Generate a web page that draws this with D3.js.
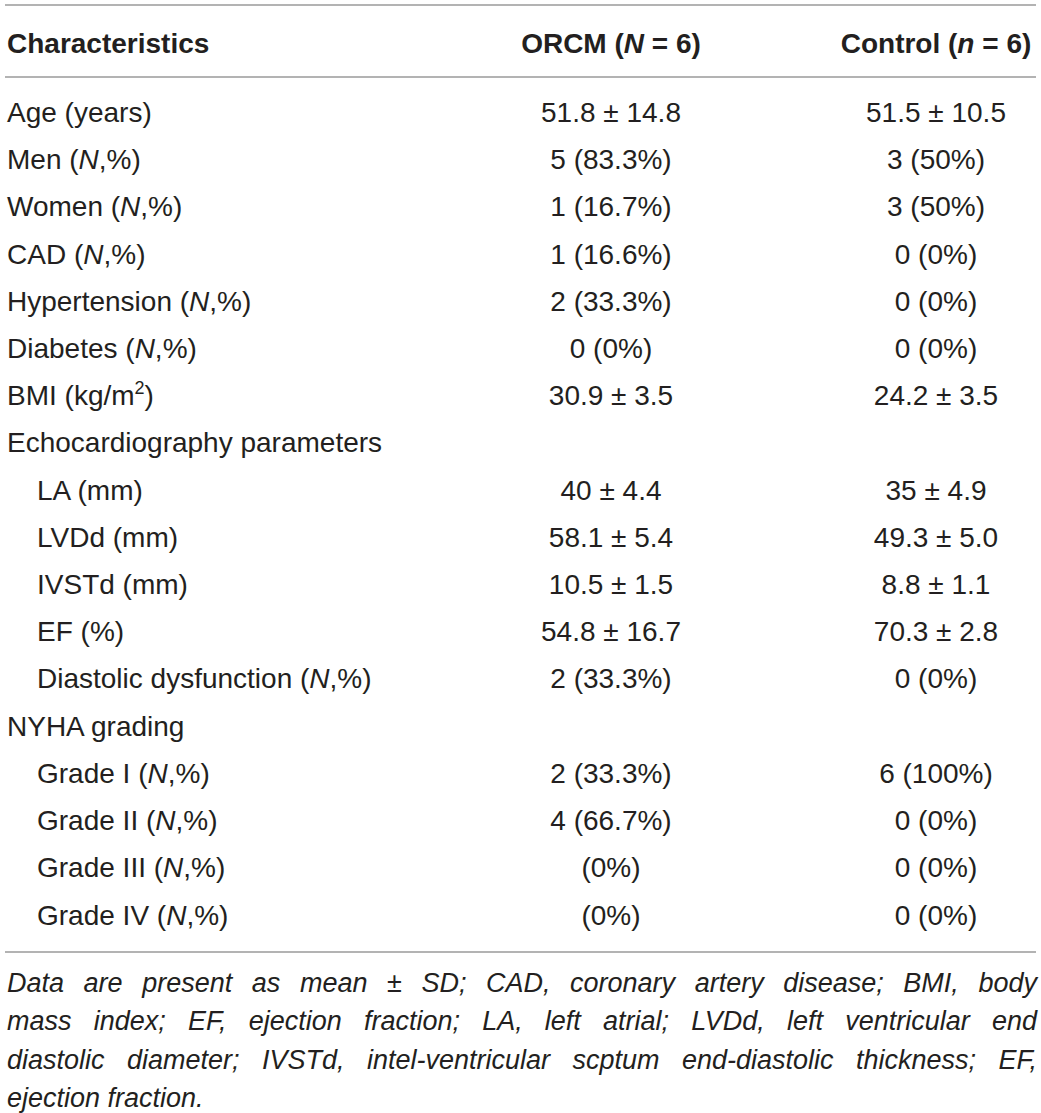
<!DOCTYPE html>
<html>
<head>
<meta charset="utf-8">
<script src="https://cdn.jsdelivr.net/npm/d3@7"></script>
<style>
  body { margin: 0; background: #fff; }
  svg { display: block; }
  text { font-family: "Liberation Sans", Arial, sans-serif; fill: #231f20; }
</style>
</head>
<body>
<script>
// table content: *x* = italic, ^x^ = superscript
const headers = ["Characteristics", "ORCM (*N* = 6)", "Control (*n* = 6)"];

const rowLabels = [
  "Age (years)", "Men (*N*,%)", "Women (*N*,%)", "CAD (*N*,%)",
  "Hypertension (*N*,%)", "Diabetes (*N*,%)", "BMI (kg/m^2^)",
  "Echocardiography parameters", "LA (mm)", "LVDd (mm)", "IVSTd (mm)",
  "EF (%)", "Diastolic dysfunction (*N*,%)", "NYHA grading",
  "Grade I (*N*,%)", "Grade II (*N*,%)", "Grade III (*N*,%)", "Grade IV (*N*,%)"
];
// sub-rows are indented
const rowIndent = [0, 0, 0, 0, 0, 0, 0, 0, 1, 1, 1, 1, 1, 0, 1, 1, 1, 1];

const orcmValues = [
  "51.8 ± 14.8", "5 (83.3%)", "1 (16.7%)", "1 (16.6%)", "2 (33.3%)", "0 (0%)",
  "30.9 ± 3.5", "", "40 ± 4.4", "58.1 ± 5.4", "10.5 ± 1.5", "54.8 ± 16.7",
  "2 (33.3%)", "", "2 (33.3%)", "4 (66.7%)", "(0%)", "(0%)"
];
const controlValues = [
  "51.5 ± 10.5", "3 (50%)", "3 (50%)", "0 (0%)", "0 (0%)", "0 (0%)",
  "24.2 ± 3.5", "", "35 ± 4.9", "49.3 ± 5.0", "8.8 ± 1.1", "70.3 ± 2.8",
  "0 (0%)", "", "6 (100%)", "0 (0%)", "0 (0%)", "0 (0%)"
];

const footnote = "Data are present as mean ± SD; CAD, coronary artery disease; BMI, body " +
  "mass index; EF, ejection fraction; LA, left atrial; LVDd, left ventricular end " +
  "diastolic diameter; IVSTd, intel-ventricular scptum end-diastolic thickness; EF, " +
  "ejection fraction.";
const footLines = [13, 12, 8, 2]; // words per footnote line

const W = 1041, H = 1113;
const left = 5, right = 1036;

const svg = d3.select("body").append("svg")
  .attr("width", W).attr("height", H);

// column centres and row baselines
const colX = d3.scaleOrdinal().domain([1, 2]).range([611, 936]);
const rowY = d3.scaleLinear().domain([0, rowLabels.length - 1]).range([122, 924.5]);

// write a rich string (*italic*, ^sup^) into a text element
function rich(sel, str) {
  const parts = str.split(/(\*[^*]+\*|\^[^^]+\^)/).filter(s => s.length);
  let back = 0;
  parts.forEach(p => {
    if (p[0] === "*") {
      sel.append("tspan").style("font-style", "italic").text(p.slice(1, -1));
    } else if (p[0] === "^") {
      sel.append("tspan").attr("dy", -11).style("font-size", "18px").text(p.slice(1, -1));
      back = 11;
    } else {
      sel.append("tspan").attr("dy", back || null).text(p);
      back = 0;
    }
  });
}

// rules
const rules = [5, 77, 952];
svg.selectAll("line.rule").data(rules).join("line")
  .attr("class", "rule")
  .attr("x1", left).attr("x2", right)
  .attr("y1", d => d).attr("y2", d => d)
  .attr("stroke", "#9a9a9a").attr("stroke-width", 1.6);

// header
const head = svg.append("g").style("font-weight", "bold").style("font-size", "28px");
head.selectAll("text").data(headers).join("text")
  .attr("x", (d, i) => i === 0 ? 7 : colX(i))
  .attr("y", 53)
  .attr("text-anchor", (d, i) => i === 0 ? "start" : "middle")
  .each(function(d) { rich(d3.select(this), d); });

// body rows
const rows = svg.append("g").style("font-size", "28px")
  .selectAll("g").data(rowLabels).join("g")
  .attr("transform", (d, i) => `translate(0,${rowY(i)})`);

rows.append("text")
  .attr("x", (d, i) => rowIndent[i] ? 37 : 7)
  .each(function(d) { rich(d3.select(this), d); });

rows.append("text")
  .attr("x", colX(1)).attr("text-anchor", "middle")
  .text((d, i) => orcmValues[i]);

rows.append("text")
  .attr("x", colX(2)).attr("text-anchor", "middle")
  .text((d, i) => controlValues[i]);

// footnote, justified italic
const words = footnote.split(" ");
const foot = svg.append("g")
  .style("font-style", "italic").style("font-size", "27px");
let k = 0;
footLines.forEach((n, li) => {
  const lineWords = words.slice(k, k + n);
  k += n;
  const y = 992 + li * 38.3;
  const items = lineWords.map(w => {
    const t = foot.append("text").attr("y", y).text(w);
    return { t, w: t.node().getComputedTextLength() };
  });
  const total = d3.sum(items, d => d.w);
  const last = li === footLines.length - 1;
  const gap = last ? 7.5 : (right - 1 - left - total) / (items.length - 1);
  let x = left + 2;
  items.forEach(d => {
    d.t.attr("x", x);
    x += d.w + gap;
  });
});
</script>
</body>
</html>
